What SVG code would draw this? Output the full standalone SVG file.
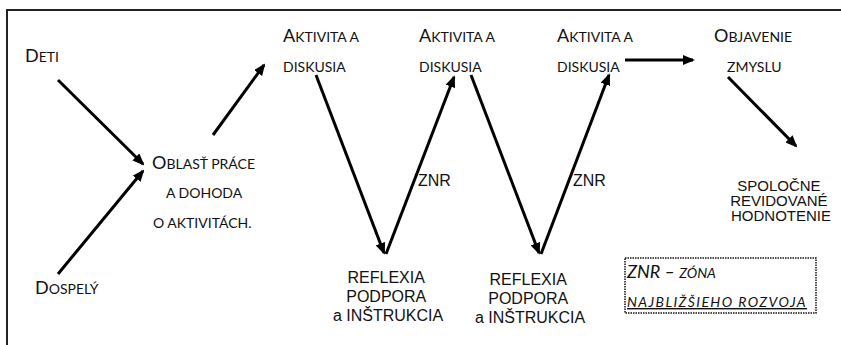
<svg xmlns="http://www.w3.org/2000/svg" width="841" height="345" viewBox="0 0 841 345">
<defs>
<style>
.sc{font-family:Lato,"Open Sans","Liberation Sans",sans-serif;font-size:14px;fill:#111}
.big{font-size:18px}
.ar{font-family:"Liberation Sans",Arial,sans-serif;fill:#111}
.it{font-style:italic}
.cn{stroke:#000;stroke-width:3;fill:none;marker-end:url(#ah)}
</style>
<marker id="ah" markerUnits="userSpaceOnUse" markerWidth="12" markerHeight="10" refX="10" refY="5" orient="auto" viewBox="0 0 12 10">
<path d="M0,0 L12,5 L0,10 z" fill="#000"/>
</marker>
</defs>
<rect width="841" height="345" fill="#fff"/>
<path d="M7,345 V10 H841" fill="none" stroke="#222" stroke-width="2"/>

<g id="connectors">
<line class="cn" x1="58" y1="80" x2="143" y2="164"/>
<line class="cn" x1="58" y1="274" x2="143" y2="171"/>
<line class="cn" x1="213" y1="135" x2="264" y2="65"/>
<line class="cn" x1="316" y1="75" x2="384" y2="253"/>
<line class="cn" x1="386" y1="254" x2="454" y2="77"/>
<line class="cn" x1="471" y1="75" x2="539" y2="253"/>
<line class="cn" x1="541" y1="254" x2="609" y2="75"/>
<line class="cn" x1="625" y1="60" x2="693" y2="60"/>
<line class="cn" x1="728" y1="77" x2="796" y2="146"/>
</g>

<g id="deti"><text class="sc" x="25" y="62"><tspan class="big">D</tspan>ETI</text></g>
<g id="dospely"><text class="sc" x="35" y="294"><tspan class="big">D</tspan>OSPELÝ</text></g>
<g id="oblast">
<text class="sc" x="152" y="169"><tspan class="big">O</tspan>BLASŤ PRÁCE</text>
<text class="sc" x="166" y="198">A DOHODA</text>
<text class="sc" x="153" y="228">O AKTIVITÁCH.</text>
</g>
<g id="aktivita1">
<text class="sc" x="283" y="42"><tspan class="big">A</tspan>KTIVITA A</text>
<text class="sc" x="283" y="72">DISKUSIA</text>
</g>
<g id="aktivita2">
<text class="sc" x="419" y="42"><tspan class="big">A</tspan>KTIVITA A</text>
<text class="sc" x="419" y="72">DISKUSIA</text>
</g>
<g id="aktivita3">
<text class="sc" x="557" y="42"><tspan class="big">A</tspan>KTIVITA A</text>
<text class="sc" x="557" y="72">DISKUSIA</text>
</g>
<g id="objavenie">
<text class="sc" x="714" y="42"><tspan class="big">O</tspan>BJAVENIE</text>
<text class="sc" x="727" y="72">ZMYSLU</text>
</g>
<g id="znr1"><text class="ar" x="418" y="186" font-size="16">ZNR</text></g>
<g id="znr2"><text class="ar" x="573" y="186" font-size="16">ZNR</text></g>
<g id="reflexia1">
<text class="ar" font-size="16" text-anchor="middle">
<tspan x="388" y="283">REFLEXIA</tspan>
<tspan x="388" y="302">PODPORA</tspan>
<tspan x="388" y="321">a INŠTRUKCIA</tspan>
</text>
</g>
<g id="reflexia2">
<text class="ar" font-size="16" text-anchor="middle">
<tspan x="530" y="285">REFLEXIA</tspan>
<tspan x="530" y="304">PODPORA</tspan>
<tspan x="530" y="323">a INŠTRUKCIA</tspan>
</text>
</g>
<g id="spolocne">
<text class="ar" font-size="15" text-anchor="middle">
<tspan x="781" y="191">SPOLOČNE</tspan>
<tspan x="781" y="206">REVIDOVANÉ</tspan>
<tspan x="781" y="221">HODNOTENIE</tspan>
</text>
</g>
<g id="legenda">
<rect x="625" y="258" width="191" height="55" fill="none" stroke="#111" stroke-width="1.5" stroke-dasharray="1.5 1"/>
<text class="sc it" x="627" y="278"><tspan class="big">ZNR – </tspan>ZÓNA</text>
<text class="sc it" x="627" y="307" letter-spacing="1.4" text-decoration="underline">NAJBLIŽŠIEHO ROZVOJA</text>
</g>
</svg>
